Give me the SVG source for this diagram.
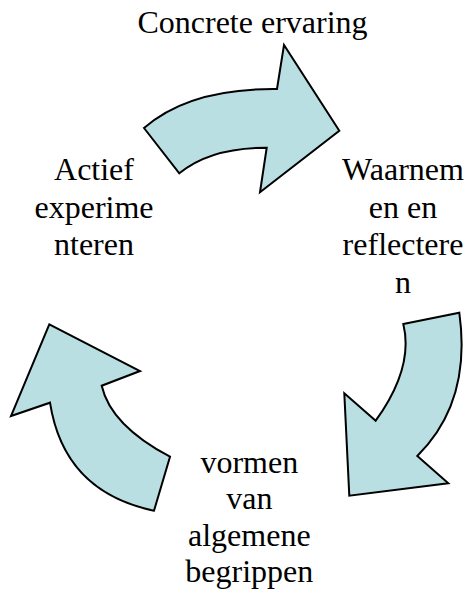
<svg xmlns="http://www.w3.org/2000/svg" width="467" height="589" viewBox="0 0 467 589">
<style>
.arrow{fill:#b9dfe3;stroke:#000;stroke-width:2;stroke-linejoin:miter}
.lbl{font-family:"Liberation Serif","Times New Roman",serif;font-size:32px;fill:#000;text-anchor:middle}
</style>
<rect width="467" height="589" fill="#fff"/>
<g id="connectors">
<path id="arrow-top" class="arrow" d="M144,128 Q189.5,88.1 277,89 L284,45 L339.3,130.7 L260,192.3 L266.7,147.7 Q210.4,147.6 179.3,173.3 Z"/>
<path id="arrow-right" class="arrow" d="M403.3,324 L459.3,312.7 Q471.8,402.2 417.3,456 L448.3,483.3 L349.3,495.7 L344.3,393.3 L375.7,420.7 Q414,367.6 403.3,324 Z"/>
<path id="arrow-left" class="arrow" d="M154,510.7 Q64,492 50,402.7 L11,416 L49.3,324.3 L140,371 L101.7,385.7 Q110.8,425.4 170,456.7 Z"/>
</g>
<g id="node-concrete"><text class="lbl" x="252.5" y="33">Concrete ervaring</text></g>
<g id="node-waarnemen"><text class="lbl" x="403" y="180">Waarnem</text><text class="lbl" x="403" y="217.5">en en</text><text class="lbl" x="403" y="255">reflectere</text><text class="lbl" x="403" y="292.5">n</text></g>
<g id="node-vormen"><text class="lbl" x="249.3" y="472.5">vormen</text><text class="lbl" x="249.3" y="509">van</text><text class="lbl" x="249.3" y="546">algemene</text><text class="lbl" x="249.3" y="582">begrippen</text></g>
<g id="node-actief"><text class="lbl" x="94" y="180">Actief</text><text class="lbl" x="94" y="217.5">experime</text><text class="lbl" x="94" y="255">nteren</text></g>
</svg>
